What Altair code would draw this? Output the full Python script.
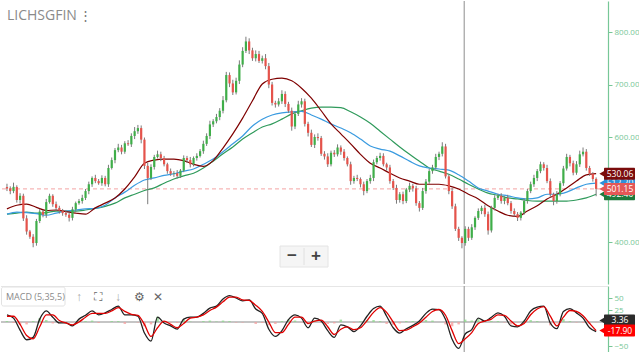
import altair as alt
import pandas as pd

TITLE = "LICHSGFIN"

# closing prices, one per candle
closes = [
    502, 497, 505, 480, 488, 445, 420, 410, 398, 440,
    458, 452, 476, 488, 472, 465, 460, 455, 452, 446,
    462, 474, 478, 484, 497, 510, 522, 516, 512, 522,
    510, 541, 556, 575, 580, 572, 588, 586, 602, 611,
    617, 595, 545, 522, 543, 562, 567, 560, 548, 535,
    530, 531, 526, 536, 560, 556, 548, 560, 564, 573,
    587, 602, 624, 630, 638, 650, 670, 718, 702, 685,
    707, 738, 764, 782, 765, 750, 758, 745, 750, 735,
    700, 665, 662, 668, 682, 663, 650, 620, 644, 662,
    668, 625, 608, 585, 600, 598, 568, 563, 548, 570,
    567, 580, 572, 560, 548, 516, 522, 520, 510, 497,
    516, 522, 552, 560, 564, 548, 542, 516, 503, 480,
    491, 478, 500, 507, 502, 474, 465, 497, 515, 535,
    542, 562, 568, 582, 525, 497, 468, 425, 408, 398,
    425, 408, 428, 446, 459, 465, 453, 422, 465, 484,
    488, 478, 484, 474, 459, 453, 446, 456, 478, 497,
    510, 522, 535, 548, 541, 516, 491, 478, 491, 512,
    540, 562, 550, 532, 548, 567, 572, 541, 530, 520,
    501.15,
]
first_open = 505

# upper / lower wick lengths beyond the body
wick_up = [
    6, 4, 8, 3, 5, 4, 6, 3, 5, 4,
    5, 3, 6, 4, 3, 5, 4, 3, 6, 4,
    5, 3, 4, 6, 4, 5, 3, 6, 4, 5,
    4, 6, 5, 4, 7, 5, 4, 6, 5, 8,
    6, 5, 4, 6, 5, 4, 7, 5, 4, 3,
    5, 4, 6, 3, 5, 4, 6, 3, 5, 4,
    6, 5, 7, 4, 6, 5, 8, 6, 5, 7,
    6, 8, 7, 9, 6, 5, 7, 6, 5, 8,
    6, 5, 4, 6, 7, 5, 4, 6, 5, 7,
    6, 5, 4, 6, 5, 7, 4, 5, 6, 4,
    5, 6, 4, 5, 3, 5, 4, 6, 3, 5,
    4, 6, 5, 4, 6, 5, 3, 5, 4, 6,
    4, 5, 3, 6, 4, 5, 4, 6, 5, 4,
    5, 6, 4, 8, 5, 4, 6, 5, 4, 3,
    5, 4, 6, 3, 5, 4, 6, 5, 4, 5,
    4, 5, 3, 6, 4, 5, 4, 3, 5, 4,
    5, 6, 4, 5, 4, 6, 5, 3, 6, 4,
    5, 6, 4, 5, 6, 7, 8, 5, 4, 3,
    3,
]
wick_dn = [
    5, 6, 4, 5, 7, 5, 6, 4, 8, 5,
    4, 5, 6, 3, 5, 4, 6, 5, 4, 7,
    5, 4, 3, 5, 4, 6, 5, 4, 3, 5,
    4, 5, 3, 6, 4, 5, 4, 3, 5, 6,
    5, 7, 6, 50, 4, 5, 3, 6, 4, 5,
    4, 6, 5, 4, 3, 5, 6, 4, 5, 3,
    5, 4, 6, 5, 4, 6, 5, 4, 7, 5,
    4, 6, 5, 4, 7, 5, 6, 4, 5, 6,
    7, 5, 6, 4, 5, 6, 4, 8, 5, 4,
    6, 5, 7, 4, 6, 5, 4, 6, 5, 4,
    5, 4, 6, 5, 4, 7, 5, 4, 6, 8,
    4, 5, 6, 4, 5, 4, 6, 5, 4, 7,
    5, 6, 4, 5, 6, 5, 7, 4, 5, 4,
    5, 4, 6, 5, 4, 6, 5, 4, 6, 10,
    5, 6, 4, 5, 4, 6, 5, 8, 4, 5,
    4, 5, 6, 4, 5, 4, 6, 5, 4, 5,
    4, 5, 6, 4, 5, 4, 6, 8, 5, 4,
    5, 4, 6, 5, 4, 5, 4, 5, 4, 5,
    14,
]

# moving averages, one value every 3 candles
MA_STEP = 3
ma_fast = [
    463, 470, 472, 466, 460, 461, 458, 455, 453, 465,
    474, 484, 501, 524, 550, 556, 558, 558, 555, 548,
    544, 555, 579, 606, 636, 669, 701, 710, 712, 707,
    693, 674, 650, 625, 606, 587, 567, 550, 541, 531,
    522, 516, 510, 510, 510, 507, 501, 491, 482, 469,
    459, 451, 449, 459, 469, 482, 491, 503, 516, 528,
    530.06,
]
ma_mid = [
    453, 457, 456, 454, 451, 455, 459, 461, 463, 464,
    470, 484, 495, 508, 518, 522, 527, 530, 535, 539,
    548, 558, 572, 587, 602, 621, 634, 642, 646, 648,
    649, 642, 634, 625, 617, 608, 596, 583, 577, 573,
    564, 554, 545, 541, 539, 537, 528, 516, 503, 497,
    491, 488, 484, 482, 484, 491, 491, 495, 503, 510,
    512.2,
]
ma_slow = [
    453, 455, 457, 455, 456, 459, 459, 459, 461, 464,
    468, 474, 484, 491, 498, 503, 512, 520, 526, 531,
    541, 554, 568, 581, 596, 608, 619, 625, 634, 644,
    650, 655, 657, 657, 656, 648, 638, 626, 611, 596,
    581, 567, 554, 541, 535, 529, 520, 510, 501, 493,
    489, 484, 482, 479, 478, 478, 478, 478, 480, 484,
    491,
]

# MACD panel, one value every 2 candles
MACD_STEP = 2
macd_vals = [
    15, 8, -17, -37, -32, 6, 23, 10, -2, -2,
    -8, 6, 14, 23, 15, 19, 26, 33, 15, 15,
    12, -23, -40, 10, -2, -8, -15, 6, 10, 10,
    18, 29, 33, 48, 55, 50, 44, 46, 27, 18,
    -15, -30, -18, 5, 15, 8, -12, 8, 2, -18,
    -32, -6, -10, -20, -8, 12, 28, 33, 12, -12,
    -23, -14, -7, 2, 18, 27, 26, 5, -36, -55,
    -25, -16, 8, 2, 10, 19, 12, -8, -10, 2,
    23, 31, 33, -2, -14, 22, 28, 19, 8, -12,
    -20,
]
signal_vals = [
    12, 12, -5, -28, -35, -10, 15, 15, 3, -2,
    -6, 0, 10, 18, 18, 18, 23, 30, 22, 16,
    14, -5, -30, -12, 2, -5, -12, -3, 8, 10,
    15, 24, 31, 42, 52, 52, 46, 45, 35, 22,
    0, -22, -22, -5, 10, 10, -3, 2, 4, -10,
    -26, -15, -10, -16, -12, 3, 20, 30, 20, 0,
    -18, -17, -10, -2, 10, 22, 26, 14, -18, -45,
    -35, -22, -3, 2, 6, 15, 14, 2, -8, -3,
    15, 27, 32, 12, -8, 10, 24, 22, 13, -3,
    -17.9,
]
hist_vals = [
    2, -2, -6, -5, 2, 8, 4, -3, -3, 0,
    -1, 3, 2, 3, -2, 0, 2, 2, -4, 0,
    -1, -9, -5, 11, -2, -2, -2, 5, 1, 0,
    2, 3, 1, 3, 2, -1, -1, 0, -4, -2,
    -7, -4, 2, 5, 3, -1, -5, 3, -1, -4,
    -3, 5, 0, -2, 2, 4, 4, 2, -4, -6,
    -3, 2, 2, 2, 4, 3, 0, -5, -9, -5,
    5, 3, 6, 0, 2, 2, -1, -5, -1, 3,
    4, 2, 0, -7, -3, 6, 2, -1, -2, -4,
    -1,
]

price_ticks = [400, 600, 700, 800]
macd_ticks = [50, 25, -50]
last_price = 501.15
cursor_index = 139.7

price_tags = ["492.40", "512.20", "530.06", "501.15"]
price_tag_values = [491.0, 512.2, 530.06, 501.15]
price_tag_colors = ["#1f7a3c", "#2f8fd8", "#7a0c0c", "#e45757"]
macd_tags = ["3.36", "-17.90"]
macd_tag_values = [3.36, -17.9]
macd_tag_colors = ["#2b2b2b", "#ff0000"]

# ---------------------------------------------------------------
UP, DOWN = "#3fae49", "#e5534b"
AXC = "#77c797"
FONT = "Open Sans"
W, H1, H2 = 607, 283, 69

opens = [first_open] + closes[:-1]
rows = []
for i, (o, c) in enumerate(zip(opens, closes)):
    rows.append({"i": i, "open": o, "close": c,
                 "high": max(o, c) + wick_up[i], "low": min(o, c) - wick_dn[i],
                 "up": c >= o})
cdf = pd.DataFrame(rows)

ma_rows = []
for name, arr in [("slow", ma_slow), ("mid", ma_mid), ("fast", ma_fast)]:
    for k, v in enumerate(arr):
        ma_rows.append({"i": k * MA_STEP, "v": v, "s": name})
madf = pd.DataFrame(ma_rows)

mdf = pd.DataFrame({"i": [k * MACD_STEP for k in range(len(macd_vals))],
                    "macd": macd_vals, "sig": signal_vals, "h": hist_vals})
mdf["pos"] = mdf["h"] >= 0

xs = alt.Scale(domain=[-0.3, 182.1], nice=False, zero=False)
ys = alt.Scale(domain=[320, 859.05], nice=False, zero=False)
ms = alt.Scale(domain=[-68.75, 75], nice=False, zero=False)

yaxis = alt.Axis(orient="right", values=price_ticks, format=".2f", grid=False,
                 domainColor=AXC, tickColor=AXC, labelColor=AXC, tickSize=4,
                 labelFontSize=8, labelFont=FONT, labelPadding=2, domainWidth=1.2)
maxis = alt.Axis(orient="right", values=macd_ticks, format="d", grid=False,
                 domainColor=AXC, tickColor=AXC, labelColor=AXC, tickSize=4,
                 labelFontSize=8, labelFont=FONT, labelPadding=2, domainWidth=1.2)


def X(f):
    return alt.X(f, type="quantitative", scale=xs, axis=None, title=None)


def Y(f):
    return alt.Y(f, type="quantitative", scale=ys, axis=yaxis, title=None)


def M(f):
    return alt.Y(f, type="quantitative", scale=ms, axis=maxis, title=None)


one = pd.DataFrame({"t": [TITLE]})

last_line = alt.Chart(pd.DataFrame({"v": [last_price]})).mark_rule(
    color="#f4a3a3", strokeDash=[4, 3], strokeWidth=1).encode(y=Y("v"))
cursor_top = alt.Chart(pd.DataFrame({"i": [cursor_index]})).mark_rule(
    color="#a0a0a0", strokeWidth=1.2).encode(x=X("i"))
wicks = alt.Chart(cdf).mark_rule(color="#7a7a7a", strokeWidth=1).encode(
    x=X("i"), y=Y("low"), y2="high")
bodies_up = alt.Chart(cdf[cdf.up]).mark_bar(width=2.2, color=UP).encode(
    x=X("i"), y=Y("open"), y2="close")
bodies_dn = alt.Chart(cdf[~cdf.up]).mark_bar(width=2.2, color=DOWN).encode(
    x=X("i"), y=Y("open"), y2="close")
ma_lines = alt.Chart(madf).mark_line(interpolate="monotone", strokeWidth=1.2).encode(
    x=X("i"), y=Y("v"), detail="s:N",
    color=alt.Color("s:N", scale=alt.Scale(domain=["slow", "mid", "fast"],
                                           range=["#2f9a5b", "#3a9be0", "#7f0000"]),
                    legend=None))

title = alt.Chart(one).mark_text(align="left", baseline="middle", fontSize=14,
                                 font=FONT, color="#8a8a8a").encode(
    x=alt.value(6), y=alt.value(15), text="t:N")
dots = alt.Chart(pd.DataFrame({"t": ["⋮"]})).mark_text(
    align="left", baseline="middle", fontSize=13, color="#777").encode(
    x=alt.value(78), y=alt.value(15), text="t:N")

zoom_box = alt.Chart(one).mark_rect(fill="#f5f5f5", stroke="#e4e4e4").encode(
    x=alt.value(279), x2=alt.value(327), y=alt.value(245), y2=alt.value(266))
zoom_sep = alt.Chart(one).mark_rule(color="#e0e0e0").encode(
    x=alt.value(303), y=alt.value(247), y2=alt.value(264))
zoom_txt = alt.Chart(pd.DataFrame({"t": ["−", "+"], "x": [291, 315]})).mark_text(
    fontSize=17, fontWeight="bold", color="#444", baseline="middle").encode(
    x=alt.X("x:Q", scale=None), y=alt.value(255), text="t:N")

ptags = pd.DataFrame({"t": price_tags, "v": price_tag_values, "c": price_tag_colors})
ptag_tri = alt.Chart(ptags).mark_point(shape="triangle-left", filled=True, size=70,
                                       opacity=1).encode(
    x=alt.value(602), y=Y("v"), color=alt.Color("c:N", scale=None))
ptag_box = alt.Chart(ptags).mark_rect(yOffset=-6, y2Offset=6, cornerRadius=1).encode(
    x=alt.value(603), x2=alt.value(634), y=Y("v"), y2="v",
    color=alt.Color("c:N", scale=None))
ptag_txt = alt.Chart(ptags).mark_text(fontSize=8.5, color="white", font=FONT,
                                      baseline="middle").encode(
    x=alt.value(619), y=Y("v"), text="t:N")

price_layers = [last_line, cursor_top, ma_lines, wicks, bodies_up, bodies_dn,
                title, dots, zoom_box, zoom_sep, zoom_txt]
for k in range(len(price_tags)):
    sub = ptags.iloc[[k]]
    price_layers += [ptag_tri.properties(data=sub), ptag_box.properties(data=sub),
                     ptag_txt.properties(data=sub)]
top = alt.layer(*price_layers).properties(width=W, height=H1)

# ---------------- MACD panel ----------------
sep = alt.Chart(one).mark_rule(color="#e6e6e6").encode(y=alt.value(0.5))
zero = alt.Chart(pd.DataFrame({"v": [0]})).mark_rule(color="#8c8c8c", strokeWidth=1.2).encode(
    y=M("v"))
cursor_bot = alt.Chart(pd.DataFrame({"i": [cursor_index]})).mark_rule(
    color="#a0a0a0", strokeWidth=1.2).encode(x=X("i"))
hist_pos = alt.Chart(mdf[mdf.pos]).mark_bar(width=2.5, color="#8fd88f", opacity=0.8).encode(
    x=X("i"), y=M("h"), y2=alt.Y2(datum=0))
hist_neg = alt.Chart(mdf[~mdf.pos]).mark_bar(width=2.5, color="#f4a0a0", opacity=0.8).encode(
    x=X("i"), y=M("h"), y2=alt.Y2(datum=0))
macd_line = alt.Chart(mdf).mark_line(interpolate="monotone", color="#222",
                                     strokeWidth=1.3).encode(x=X("i"), y=M("macd"))
sig_line = alt.Chart(mdf).mark_line(interpolate="monotone", color="#e00000",
                                    strokeWidth=1.3).encode(x=X("i"), y=M("sig"))

leg_box = alt.Chart(one).mark_rect(fill="white", stroke="#e2e2e2", cornerRadius=2).encode(
    x=alt.value(0.5), x2=alt.value(64), y=alt.value(1), y2=alt.value(20))
leg_txt = alt.Chart(pd.DataFrame({"t": ["MACD (5,35,5)"]})).mark_text(
    align="left", baseline="middle", fontSize=9, font=FONT, color="#8a8a8a").encode(
    x=alt.value(5), y=alt.value(11), text="t:N")
icons = alt.Chart(pd.DataFrame({"t": ["↑", "⛶", "↓", "⚙", "✕"],
                                "x": [78, 97, 117, 138, 157],
                                "c": ["#aaaaaa", "#666666", "#aaaaaa", "#666666", "#666666"]})
                  ).mark_text(fontSize=12, baseline="middle").encode(
    x=alt.X("x:Q", scale=None), y=alt.value(11), text="t:N",
    color=alt.Color("c:N", scale=None))

mtags = pd.DataFrame({"t": macd_tags, "v": macd_tag_values, "c": macd_tag_colors})
macd_layers = [sep, zero, cursor_bot, hist_pos, hist_neg, macd_line, sig_line,
               leg_box, leg_txt, icons]
for k in range(len(macd_tags)):
    sub = mtags.iloc[[k]]
    macd_layers += [
        alt.Chart(sub).mark_point(shape="triangle-left", filled=True, size=70, opacity=1).encode(
            x=alt.value(602), y=M("v"), color=alt.Color("c:N", scale=None)),
        alt.Chart(sub).mark_rect(yOffset=-6, y2Offset=6, cornerRadius=1).encode(
            x=alt.value(603), x2=alt.value(634), y=M("v"), y2="v",
            color=alt.Color("c:N", scale=None)),
        alt.Chart(sub).mark_text(fontSize=8.5, color="white", font=FONT,
                                 baseline="middle").encode(
            x=alt.value(619), y=M("v"), text="t:N"),
    ]
bottom = alt.layer(*macd_layers).properties(width=W, height=H2)

chart = alt.vconcat(top, bottom, spacing=0).resolve_scale(
    y="independent", color="independent").properties(
    padding=0, background="white").configure_view(stroke=None)

chart.save("out.html", embed_options={"renderer": "svg", "actions": False})
